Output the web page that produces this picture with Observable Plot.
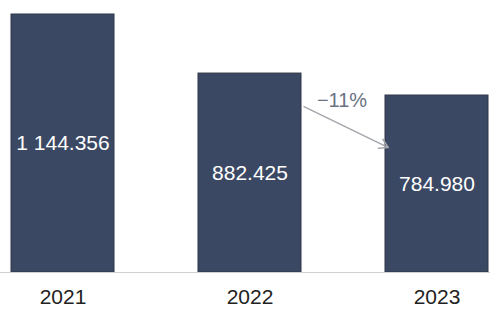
<!DOCTYPE html>
<html>
<head>
<meta charset="utf-8">
<script src="https://cdn.jsdelivr.net/npm/d3@7"></script>
<script src="https://cdn.jsdelivr.net/npm/@observablehq/plot@0.6"></script>
<style>
  html, body { margin: 0; padding: 0; background: #fff; }
  svg { display: block; }
</style>
</head>
<body>
<div id="chart"></div>
<script>
const years = ["2021", "2022", "2023"];
const values = [1144356, 882425, 784980];
const valueLabels = ["1 144.356", "882.425", "784.980"];

// change annotation between 2022 and 2023
const changeLabel = "−11%";
const arrowFrom = "2022";
const arrowTo = "2023";
const arrowY1 = 851600;
const arrowY2 = 449700;
const changeLabelY = 762900;

const data = years.map((y, i) => ({year: y, value: values[i], label: valueLabels[i]}));

const font = "'Liberation Sans', Arial, sans-serif";

const chart = Plot.plot({
  width: 490,
  height: 309,
  marginTop: 14,
  marginBottom: 37,
  marginLeft: 0,
  marginRight: 0,
  style: {fontFamily: font, background: "#fff"},
  x: {domain: years, paddingInner: 0.45, paddingOuter: 0, insetLeft: 10, insetRight: 1, label: null},
  y: {domain: [0, 1144356], axis: null},
  marks: [
    Plot.barY(data, {x: "year", y: "value", fill: "#3b4863", stroke: "#2f3546", strokeWidth: 1}),
    Plot.ruleY([0], {stroke: "#d0d0d0", strokeWidth: 1}),
    Plot.text(data, {
      x: "year",
      y: d => d.value / 2,
      text: "label",
      fill: "#ffffff",
      fontSize: 21,
      textAnchor: "middle"
    }),
    Plot.arrow([{x1: arrowFrom, x2: arrowTo, y1: arrowY1, y2: arrowY2}], {
      x1: "x1", x2: "x2", y1: "y1", y2: "y2",
      stroke: "#a3a6ac",
      strokeWidth: 1.5,
      insetStart: 60,
      insetEnd: 54,
      headLength: 10
    }),
    Plot.text([{x: arrowFrom, y: changeLabelY, t: changeLabel}], {
      x: "x", y: "y", text: "t",
      dx: 92,
      fill: "#6a7282",
      fontSize: 20,
      textAnchor: "middle"
    }),
    Plot.axisX({tickSize: 0, tickPadding: 17, fontSize: 21, color: "#222", label: null})
  ]
});

document.getElementById("chart").appendChild(chart);
</script>
</body>
</html>
